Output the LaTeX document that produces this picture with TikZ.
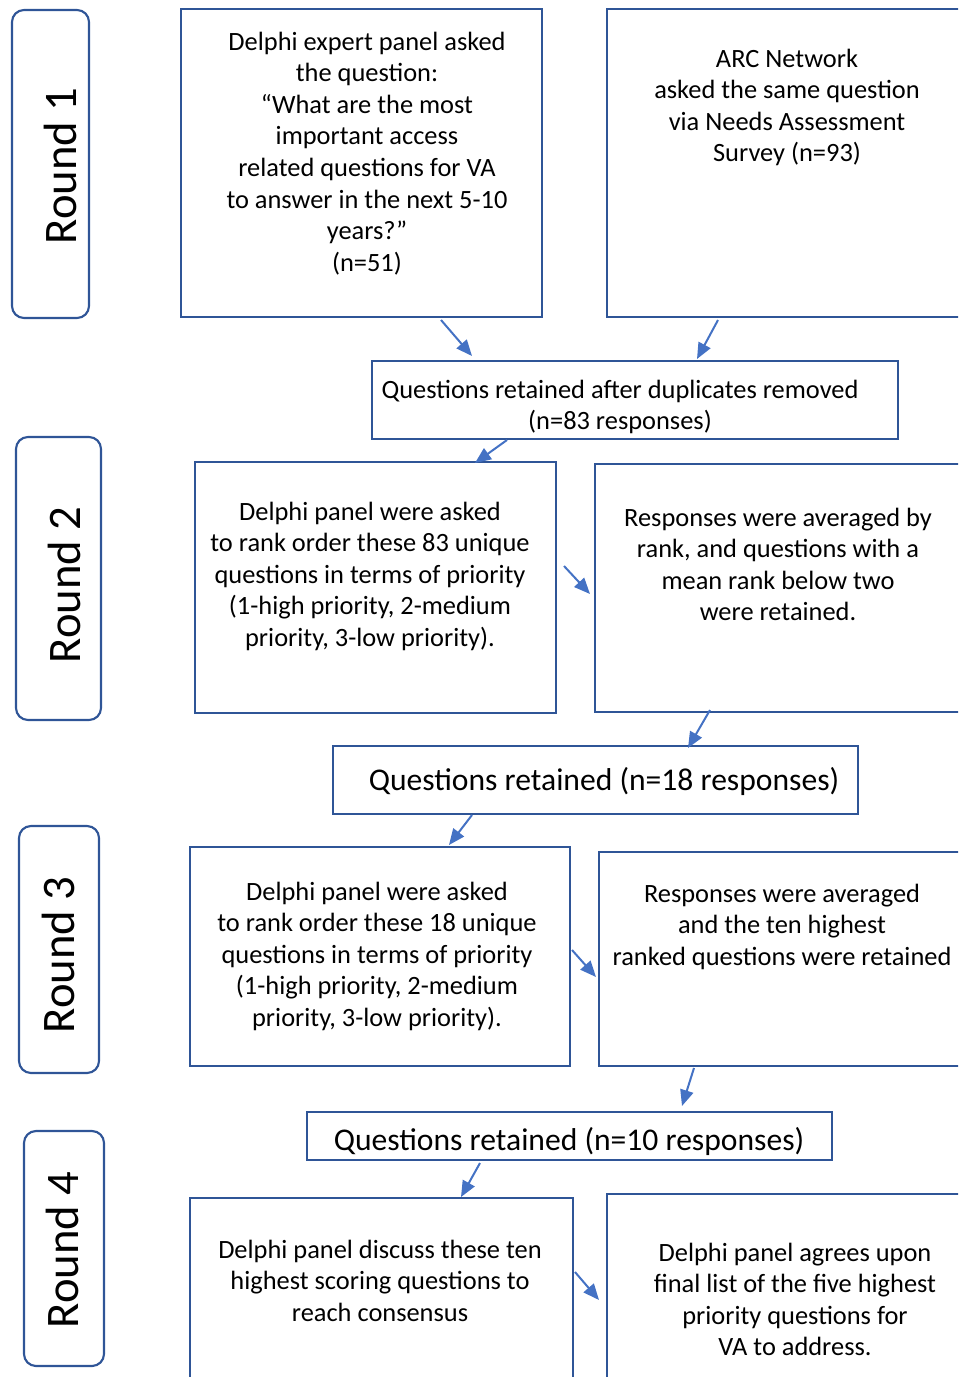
\documentclass[tikz,border=0pt]{standalone}
\usepackage{fontspec}
\setmainfont{Carlito}
\usetikzlibrary{arrows.meta,calc}
\definecolor{boxblue}{RGB}{47,85,151}
\definecolor{arrblue}{RGB}{68,114,196}

\begin{document}
\begin{tikzpicture}[x=0.75pt,y=-0.75pt,
    box/.style={draw=boxblue,line width=1.6pt,outer sep=0pt,inner sep=0pt},
    roundbox/.style={box,rounded corners=9pt},
    txt/.style={align=center,inner sep=0pt,font=\fontsize{19.8}{23.7}\selectfont},
    bigtxt/.style={inner sep=0pt,font=\fontsize{23.7}{28}\selectfont},
    roundtxt/.style={inner sep=0pt,rotate=90,font=\fontsize{35}{40}\selectfont},
    arr/.style={draw=arrblue,line width=1.5pt,-{Triangle[length=12pt,width=10pt]}}]
    \useasboundingbox (0,0) rectangle (958,1377);
    \clip (0,0) rectangle (958,1377);
    \begin{scope}
      \node[roundbox,minimum width=57.75pt,minimum height=231pt] (r1) at (50.5,164) {};
      \node[roundbox,minimum width=63.75pt,minimum height=212.25pt] (r2) at (58.5,578.5) {};
      \node[roundbox,minimum width=60pt,minimum height=185.25pt] (r3) at (59,949.5) {};
      \node[roundbox,minimum width=60pt,minimum height=176.25pt] (r4) at (64,1248.5) {};
      \node[roundtxt] (r1t) at (60,166) {Round 1};
      \node[roundtxt] (r2t) at (64,585) {Round 2};
      \node[roundtxt] (r3t) at (58,955) {Round 3};
      \node[roundtxt] (r4t) at (62,1250) {Round 4};
    \end{scope}
    \begin{scope}
      \node[box,minimum width=270.75pt,minimum height=231pt] (a1) at (361.5,163) {};
      \node[box,minimum width=272.25pt,minimum height=231pt] (a2) at (788.5,163) {};
      \node[box,minimum width=394.5pt,minimum height=58.5pt] (q83) at (635,400) {};
      \node[box,minimum width=270.75pt,minimum height=188.25pt] (b1) at (375.5,587.5) {};
      \node[box,minimum width=273.75pt,minimum height=186pt] (b2) at (777.5,588) {};
      \node[box,minimum width=393.75pt,minimum height=51pt] (q18) at (595.5,780) {};
      \node[box,minimum width=285pt,minimum height=164.25pt] (c1) at (380,956.5) {};
      \node[box,minimum width=274.5pt,minimum height=160.5pt] (c2) at (782,959) {};
      \node[box,minimum width=393.75pt,minimum height=36pt] (q10) at (569.5,1136) {};
      \node[box,minimum width=287.25pt,minimum height=166.5pt] (d1) at (381.5,1309) {};
      \node[box,minimum width=282pt,minimum height=169.5pt] (d2) at (795,1307) {};
    \end{scope}
    \node[txt,anchor=north] (a1t) at (367,31.5) {Delphi expert panel asked\\the question:\\“What are the most\\important access\\related questions for VA\\to answer in the next 5-10\\years?”\\(n=51)};
    \node[txt,anchor=north] (a2t) at (787,48.5) {ARC Network\\asked the same question\\via Needs Assessment\\Survey (n=93)};
    \node[txt,anchor=north] (q83t) at (620,379.5) {Questions retained after duplicates removed\\(n=83 responses)};
    \node[txt,anchor=north] (b1t) at (370,501.5) {Delphi panel were asked\\to rank order these 83 unique\\questions in terms of priority\\(1-high priority, 2-medium\\priority, 3-low priority).};
    \node[txt,anchor=north] (b2t) at (778,507.5) {Responses were averaged by\\rank, and questions with a\\mean rank below two\\were retained.};
    \node[bigtxt] (q18t) at (604,781.5) {Questions retained (n=18 responses)};
    \node[txt,anchor=north] (c1t) at (377,881.5) {Delphi panel were asked\\to rank order these 18 unique\\questions in terms of priority\\(1-high priority, 2-medium\\priority, 3-low priority).};
    \node[txt,anchor=north] (c2t) at (782,883.5) {Responses were averaged\\and the ten highest\\ranked questions were retained};
    \node[bigtxt] (q10t) at (569,1141.5) {Questions retained (n=10 responses)};
    \node[txt,anchor=north] (d1t) at (380,1239.5) {Delphi panel discuss these ten\\highest scoring questions to\\reach consensus};
    \node[txt,anchor=north] (d2t) at (795,1242.5) {Delphi panel agrees upon\\final list of the five highest\\priority questions for\\VA to address.};
    \draw[arr] ([shift={(-101,3)}]a1.south east) -- ([shift={(100,-5)}]q83.north west);
    \draw[arr] ([shift={(111,3)}]a2.south west) -- ([shift={(325,-2)}]q83.north west);
    \draw[arr] ([shift={(135,1)}]q83.south west) -- ([shift={(280,1)}]b1.north west);
    \draw[arr] ([shift={(8,-21.5)}]b1.east) -- ([shift={(-5,6)}]b2.west);
    \draw[arr] ([shift={(115,-2)}]b2.south west) -- ([shift={(355,2)}]q18.north west);
    \draw[arr] ([shift={(139,1)}]q18.south west) -- ([shift={(259,-2)}]c1.north west);
    \draw[arr] ([shift={(2,-6.5)}]c1.east) -- ([shift={(-3,18)}]c2.west);
    \draw[arr] ([shift={(95,2)}]c2.south west) -- ([shift={(375,-6)}]q10.north west);
    \draw[arr] ([shift={(173,3)}]q10.south west) -- ([shift={(271,-1)}]d1.north west);
    \draw[arr] ([shift={(2,74)}]d1.north east) -- ([shift={(-8,106)}]d2.north west);
  \end{tikzpicture}
\end{document}
